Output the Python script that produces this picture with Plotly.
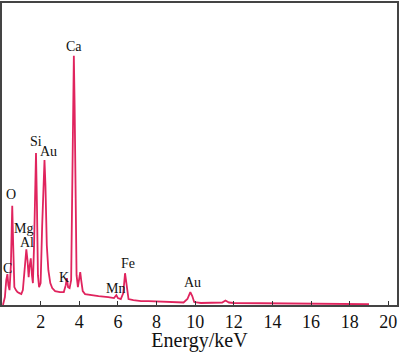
import plotly.graph_objects as go

energy = [0.05, 0.15, 0.22, 0.28, 0.33, 0.39, 0.46, 0.53, 0.58, 0.64, 0.72, 0.80, 0.90, 1.00, 1.08,
          1.15, 1.22, 1.26, 1.32, 1.38, 1.42, 1.49, 1.55, 1.60, 1.66, 1.72, 1.76, 1.81, 1.86, 1.92,
          2.00, 2.08, 2.15, 2.20, 2.25, 2.32, 2.40, 2.50, 2.60, 2.75, 3.00, 3.20, 3.30, 3.36, 3.42,
          3.50, 3.58, 3.63, 3.68, 3.72, 3.76, 3.80, 3.86, 3.93, 4.00, 4.05, 4.10, 4.18, 4.30, 4.60,
          5.00, 5.50, 5.80, 5.92, 6.00, 6.15, 6.28, 6.37, 6.45, 6.55, 6.80, 7.20, 7.60, 8.00, 8.50,
          9.00, 9.40, 9.60, 9.75, 9.85, 9.95, 10.3, 11.0, 11.4, 11.57, 11.75, 12.0, 13.0, 14.0, 15.0,
          16.0, 17.0, 18.0, 19.0]
counts = [0, 8, 25, 31, 20, 15, 40, 100, 60, 18, 15, 13, 12, 11, 15,
          35, 52, 56, 45, 28, 38, 47, 30, 22, 60, 130, 153, 100, 30, 18,
          22, 80, 135, 146, 120, 60, 35, 22, 17, 14, 13, 13, 20, 27, 18,
          17, 25, 100, 220, 251, 200, 90, 30, 18, 25, 33, 25, 14, 11, 10,
          9, 8, 7, 10, 7, 6, 12, 32, 18, 6, 5, 4, 4, 3.5, 3,
          2.5, 2.5, 6, 13, 9, 3, 2, 2, 2.5, 4.5, 2.5, 2, 1.8, 1.5, 1.3,
          1.2, 1.0, 1.0, 0.8]

peak_labels = ["Ca", "Si", "Au", "O", "Mg", "Al", "C", "K", "Mn", "Fe", "Au"]
label_x = [3.74, 1.78, 2.40, 0.49, 1.11, 1.31, 0.28, 3.22, 5.85, 6.50, 9.87]
label_y = [260, 165, 155, 111, 77, 63, 37, 28, 17, 42, 23]

tick_vals = [2, 4, 6, 8, 10, 12, 14, 16, 18, 20]

fig = go.Figure()
fig.add_trace(go.Scatter(x=energy, y=counts, mode="lines",
                         line=dict(color="#E0245E", width=1.8), showlegend=False))

for t, x, y in zip(peak_labels, label_x, label_y):
    fig.add_annotation(x=x, y=y, text=t, showarrow=False, xanchor="center", yanchor="middle",
                       font=dict(family="Liberation Serif", size=14, color="#111"))

fig.update_layout(
    width=400, height=352,
    margin=dict(l=2, r=2, t=1, b=47),
    paper_bgcolor="white", plot_bgcolor="white",
    xaxis=dict(range=[0, 20.45], tickvals=tick_vals, ticks="inside", ticklen=4, tickwidth=1.2,
               tickcolor="#333", showline=True, linecolor="#444", linewidth=1.5, mirror=True,
               showgrid=False, zeroline=False,
               tickfont=dict(family="Liberation Serif", size=18, color="#111"),
               title=dict(text="Energy/keV", font=dict(family="Liberation Serif", size=20, color="#111"),
                          standoff=2)),
    yaxis=dict(range=[0, 304], showticklabels=False, ticks="", showline=True, linecolor="#444",
               linewidth=1.5, mirror=True, showgrid=False, zeroline=False),
)

fig.write_html("out.html")
